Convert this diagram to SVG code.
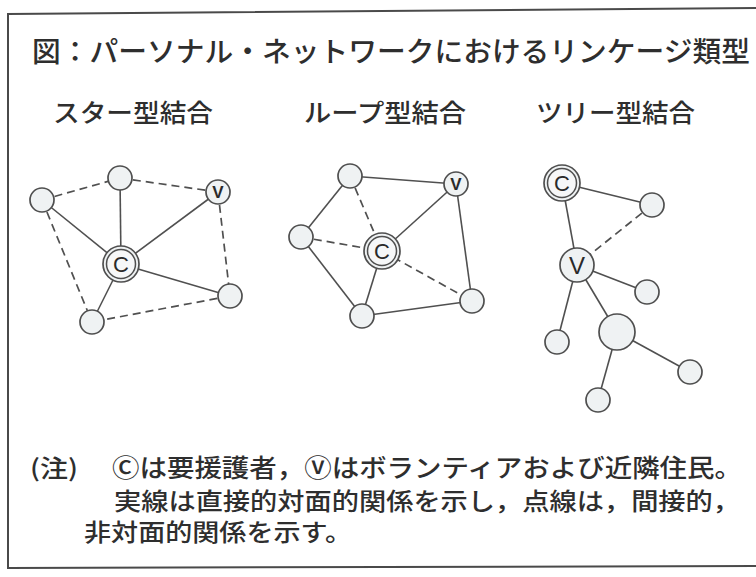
<svg xmlns="http://www.w3.org/2000/svg" width="756" height="577" viewBox="0 0 756 577">
<style>
.frame{fill:none;stroke:#4a4a4a;stroke-width:2}
.e{stroke:#505050;stroke-width:1.6;fill:none}
.d{stroke:#505050;stroke-width:1.7;fill:none;stroke-dasharray:8 5}
.n{fill:#eff2f3;stroke:#4f4f4f;stroke-width:1.7}
.ci{fill:#f6f7f8;stroke:#4f4f4f;stroke-width:1.5}
.lt{font-family:"Liberation Sans",Arial,sans-serif;fill:#2a2a2a;text-anchor:middle}
.jp{font-family:"Noto Sans CJK JP","Noto Sans CJK SC",sans-serif;fill:#2e2e2e;font-weight:500}
</style>
<rect width="756" height="577" fill="#ffffff"/>
<path class="frame" d="M756,8 L8,14 L8,568 L756,566"/>
<g id="title">
<text class="jp" x="32" y="62" font-size="28" textLength="718" lengthAdjust="spacingAndGlyphs">図：パーソナル・ネットワークにおけるリンケージ類型</text>
</g>
<g id="subtitles">
<text class="jp" x="53" y="122" font-size="25" textLength="160" lengthAdjust="spacingAndGlyphs">スター型結合</text>
<text class="jp" x="304" y="122" font-size="25" textLength="162" lengthAdjust="spacingAndGlyphs">ループ型結合</text>
<text class="jp" x="536" y="122" font-size="25" textLength="159" lengthAdjust="spacingAndGlyphs">ツリー型結合</text>
</g>
<g id="connectors">
<line class="e" x1="121" y1="264" x2="42" y2="200"/>
<line class="e" x1="121" y1="264" x2="120" y2="178"/>
<line class="e" x1="121" y1="264" x2="218" y2="192"/>
<line class="e" x1="121" y1="264" x2="230" y2="296"/>
<line class="e" x1="121" y1="264" x2="92" y2="322"/>
<line class="d" x1="42" y1="200" x2="120" y2="178"/>
<line class="d" x1="120" y1="178" x2="218" y2="192"/>
<line class="d" x1="218" y1="192" x2="230" y2="296"/>
<line class="d" x1="230" y1="296" x2="92" y2="322"/>
<line class="d" x1="42" y1="200" x2="92" y2="322"/>
<line class="e" x1="350" y1="176" x2="456" y2="184"/>
<line class="e" x1="350" y1="176" x2="301" y2="237"/>
<line class="e" x1="301" y1="237" x2="362" y2="316"/>
<line class="e" x1="362" y1="316" x2="472" y2="301"/>
<line class="e" x1="456" y1="184" x2="472" y2="301"/>
<line class="e" x1="456" y1="184" x2="382" y2="251"/>
<line class="e" x1="382" y1="251" x2="362" y2="316"/>
<line class="d" x1="350" y1="176" x2="382" y2="251"/>
<line class="d" x1="301" y1="237" x2="382" y2="251"/>
<line class="d" x1="382" y1="251" x2="472" y2="301"/>
<line class="e" x1="562" y1="183" x2="652" y2="205"/>
<line class="e" x1="562" y1="183" x2="577" y2="265"/>
<line class="d" x1="652" y1="205" x2="577" y2="265"/>
<line class="e" x1="577" y1="265" x2="647" y2="292"/>
<line class="e" x1="577" y1="265" x2="617" y2="332"/>
<line class="e" x1="577" y1="265" x2="557" y2="342"/>
<line class="e" x1="617" y1="332" x2="690" y2="372"/>
<line class="e" x1="617" y1="332" x2="598" y2="400"/>
</g>
<g id="s1"><circle class="n" cx="42" cy="200" r="12"/></g>
<g id="s2"><circle class="n" cx="120" cy="178" r="12"/></g>
<g id="sV"><circle class="n" cx="218" cy="192" r="12"/><text class="lt" x="218" y="198" font-size="17" font-weight="bold">V</text></g>
<g id="sC"><circle class="n" cx="121" cy="264" r="18"/><circle class="ci" cx="121" cy="264" r="14.5"/><text class="lt" x="121" y="272" font-size="22">C</text></g>
<g id="s3"><circle class="n" cx="230" cy="296" r="12"/></g>
<g id="s4"><circle class="n" cx="92" cy="322" r="12"/></g>
<g id="l1"><circle class="n" cx="350" cy="176" r="12"/></g>
<g id="lV"><circle class="n" cx="456" cy="184" r="12"/><text class="lt" x="456" y="190" font-size="17" font-weight="bold">V</text></g>
<g id="l2"><circle class="n" cx="301" cy="237" r="12"/></g>
<g id="lC"><circle class="n" cx="382" cy="251" r="18"/><circle class="ci" cx="382" cy="251" r="14.5"/><text class="lt" x="382" y="259" font-size="22">C</text></g>
<g id="l3"><circle class="n" cx="362" cy="316" r="12"/></g>
<g id="l4"><circle class="n" cx="472" cy="301" r="12"/></g>
<g id="tC"><circle class="n" cx="562" cy="183" r="18"/><circle class="ci" cx="562" cy="183" r="14.5"/><text class="lt" x="562" y="191" font-size="22">C</text></g>
<g id="t1"><circle class="n" cx="652" cy="205" r="12"/></g>
<g id="tV"><circle class="n" cx="577" cy="265" r="17"/><text class="lt" x="577" y="274" font-size="24">V</text></g>
<g id="t2"><circle class="n" cx="647" cy="292" r="12"/></g>
<g id="t3"><circle class="n" cx="617" cy="332" r="18"/></g>
<g id="t4"><circle class="n" cx="557" cy="342" r="12"/></g>
<g id="t5"><circle class="n" cx="690" cy="372" r="12"/></g>
<g id="t6"><circle class="n" cx="598" cy="400" r="12"/></g>
<g id="notes">
<text class="jp" x="30" y="477" font-size="24" textLength="48" lengthAdjust="spacingAndGlyphs">(注)</text>
<text class="jp" x="112" y="477" font-size="25" textLength="630" lengthAdjust="spacingAndGlyphs">Ⓒは要援護者，Ⓥはボランティアおよび近隣住民。</text>
<text class="jp" x="114" y="510" font-size="24" textLength="626" lengthAdjust="spacingAndGlyphs">実線は直接的対面的関係を示し，点線は，間接的，</text>
<text class="jp" x="84" y="541" font-size="24" textLength="268" lengthAdjust="spacingAndGlyphs">非対面的関係を示す。</text>
</g>
</svg>
